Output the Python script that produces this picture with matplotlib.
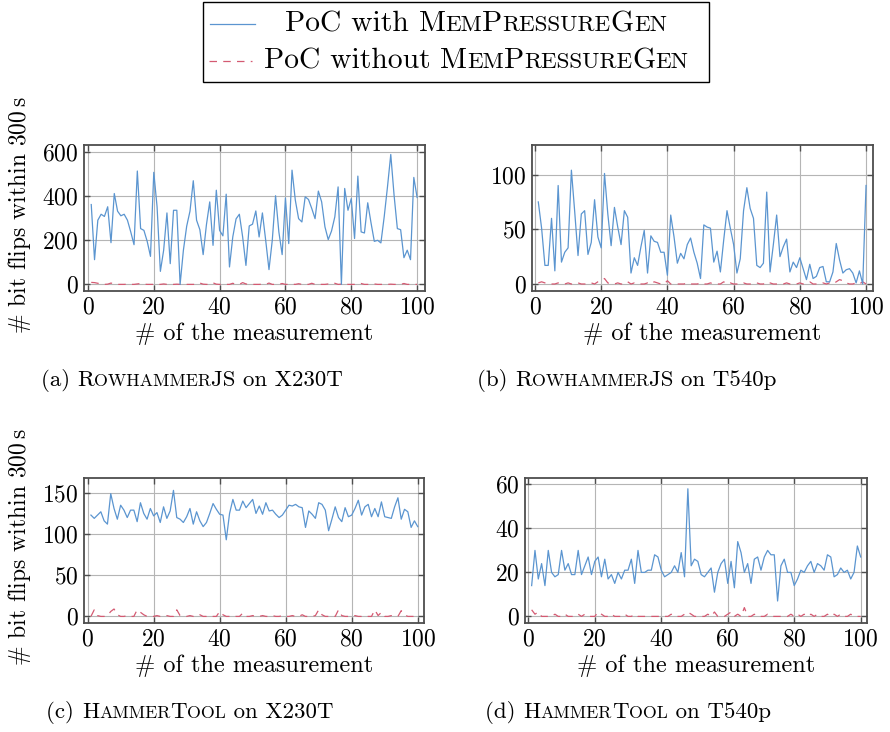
import numpy as np
import matplotlib
matplotlib.use("Agg")
import matplotlib.pyplot as plt
from matplotlib.lines import Line2D
from matplotlib.patches import Rectangle
from matplotlib.offsetbox import TextArea, HPacker, AnnotationBbox, DrawingArea

plt.rcParams['font.family'] = 'serif'
plt.rcParams['font.serif'] = ['cmr10']
plt.rcParams['mathtext.fontset'] = 'cm'
plt.rcParams['axes.formatter.use_mathtext'] = True

# ============================================================
# Data
# ============================================================
measurement = np.arange(1, 101)

with_rjs_x230t = [
    362, 112, 291, 318, 308, 352, 189, 412, 332, 311,
    318, 291, 238, 180, 514, 253, 245, 195, 127, 508,
    352, 59, 155, 324, 94, 336, 336, 0, 155, 264,
    332, 470, 291, 248, 135, 271, 374, 177, 427, 245,
    220, 409, 79, 215, 297, 318, 215, 86, 265, 273,
    333, 215, 324, 200, 67, 200, 402, 238, 135, 392,
    185, 518, 382, 298, 283, 397, 385, 344, 298, 423,
    374, 261, 203, 242, 306, 442, 0, 435, 336, 389,
    208, 491, 238, 233, 370, 279, 195, 200, 188, 306,
    442, 589, 405, 253, 248, 121, 155, 112, 485, 394,
]
without_rjs_x230t = [
    9, 8, 5, 2, 0, 1, 6, 2, 0, 0,
    0, 1, 0, 0, 2, 4, 1, 0, 0, 0,
    0, 0, 2, 0, 0, 0, 1, 0, 3, 0,
    0, 0, 1, 6, 1, 0, 0, 7, 1, 0,
    0, 0, 0, 5, 0, 0, 8, 2, 0, 0,
    0, 0, 1, 0, 6, 0, 0, 0, 4, 0,
    0, 1, 0, 3, 0, 0, 0, 5, 0, 0,
    0, 0, 2, 0, 5, 0, 1, 7, 0, 0,
    0, 0, 4, 0, 0, 0, 2, 0, 0, 0,
    0, 1, 0, 0, 0, 4, 0, 0, 0, 0,
]

with_rjs_t540p = [
    75, 51, 17, 17, 60, 12, 90, 20, 29, 33,
    104, 66, 26, 64, 67, 27, 38, 77, 43, 33,
    101, 64, 35, 70, 52, 36, 67, 61, 10, 24,
    17, 34, 49, 10, 44, 39, 38, 29, 29, 8,
    63, 43, 19, 28, 23, 36, 42, 29, 19, 5,
    54, 52, 51, 20, 30, 11, 40, 67, 51, 36,
    10, 23, 67, 88, 69, 60, 17, 15, 19, 84,
    11, 36, 63, 25, 34, 41, 11, 20, 15, 24,
    14, 4, 18, 5, 7, 15, 16, 2, 2, 11,
    37, 22, 10, 13, 14, 10, 1, 12, 0, 90,
]
without_rjs_t540p = [
    1, 2, 1, 0, 0, 0, 1, 0, 0, 1,
    0, 0, 1, 0, 0, 0, 1, 0, 2, 3,
    5, 1, 0, 0, 1, 0, 0, 2, 0, 1,
    0, 0, 0, 1, 0, 2, 1, 0, 0, 3,
    0, 0, 0, 0, 0, 1, 0, 0, 0, 1,
    0, 0, 1, 0, 0, 0, 2, 0, 1, 0,
    0, 0, 1, 0, 0, 0, 1, 0, 0, 2,
    1, 0, 0, 0, 0, 1, 0, 0, 0, 1,
    0, 1, 2, 0, 0, 0, 1, 0, 1, 0,
    2, 4, 3, 1, 0, 0, 1, 0, 2, 0,
]

with_ht_x230t = [
    123, 119, 123, 127, 116, 112, 149, 131, 118, 135,
    129, 120, 129, 129, 115, 138, 125, 118, 131, 122,
    126, 114, 133, 119, 128, 153, 120, 118, 114, 121,
    131, 112, 127, 116, 109, 114, 125, 137, 130, 124,
    123, 93, 125, 142, 129, 129, 140, 132, 137, 142,
    125, 134, 124, 138, 128, 129, 124, 120, 123, 129,
    135, 134, 136, 133, 132, 108, 128, 124, 119, 138,
    136, 129, 104, 118, 133, 120, 115, 132, 121, 123,
    131, 141, 123, 133, 136, 121, 131, 121, 139, 121,
    120, 119, 133, 144, 118, 130, 127, 108, 116, 109,
]
without_ht_x230t = [
    0, 8, 1, 0, 0, 1, 6, 9, 2, 0,
    0, 1, 0, 0, 8, 5, 2, 0, 0, 0,
    1, 0, 0, 1, 0, 0, 8, 1, 0, 0,
    1, 0, 0, 2, 0, 0, 1, 0, 0, 6,
    2, 0, 0, 1, 0, 0, 4, 0, 0, 1,
    0, 0, 1, 0, 0, 1, 0, 0, 1, 0,
    0, 1, 0, 0, 2, 0, 0, 0, 1, 8,
    2, 0, 0, 1, 0, 8, 1, 0, 0, 0,
    1, 0, 0, 1, 0, 0, 8, 1, 5, 0,
    0, 1, 0, 0, 7, 2, 0, 0, 0, 1,
]

with_ht_t540p = [
    14, 30, 17, 24, 14, 30, 20, 18, 19, 30,
    21, 24, 19, 19, 30, 19, 23, 27, 19, 25,
    27, 18, 26, 17, 19, 15, 20, 17, 21, 21,
    26, 15, 30, 20, 20, 21, 21, 28, 27, 21,
    18, 19, 20, 23, 20, 29, 18, 58, 23, 26,
    25, 19, 18, 20, 22, 11, 20, 24, 26, 15,
    25, 13, 34, 29, 20, 24, 15, 26, 27, 21,
    27, 30, 28, 28, 7, 23, 26, 20, 20, 14,
    17, 21, 20, 23, 25, 20, 24, 23, 21, 28,
    27, 18, 19, 22, 20, 21, 17, 20, 32, 27,
]
without_ht_t540p = [
    3, 1, 2, 0, 0, 0, 0, 1, 0, 0,
    1, 0, 0, 0, 1, 0, 1, 0, 0, 0,
    2, 1, 0, 0, 1, 0, 0, 0, 1, 0,
    0, 1, 0, 0, 0, 0, 0, 0, 0, 0,
    0, 0, 1, 0, 0, 0, 1, 2, 1, 0,
    0, 0, 0, 1, 0, 2, 0, 0, 0, 1,
    2, 0, 1, 0, 4, 0, 0, 1, 0, 0,
    0, 1, 0, 0, 0, 0, 0, 0, 1, 0,
    1, 0, 1, 0, 1, 0, 1, 0, 0, 1,
    0, 1, 0, 1, 0, 0, 1, 0, 0, 0,
]

x_ticks = [0, 20, 40, 60, 80, 100]
y_ticks_rjs_x230t = [0, 200, 400, 600]
y_ticks_rjs_t540p = [0, 50, 100]
y_ticks_ht_x230t = [0, 50, 100, 150]
y_ticks_ht_t540p = [0, 20, 40, 60]

BLUE = '#5b95d0'
RED = '#d45a72'
FRAME = '#4d4d4d'
W, H = 890, 732
SC_RATIO = 0.78


# ============================================================
# Helpers
# ============================================================
def fig_rect(left, top, right, bottom):
    """pixel box (from top-left) -> figure fraction rect"""
    return [left / W, 1 - bottom / H, (right - left) / W, (bottom - top) / H]


def small_caps(text, size):
    """split text into runs, lowercase letters become smaller capitals"""
    runs, cur, cur_low = [], "", None
    for ch in text:
        low = ch.islower()
        if cur and low != cur_low:
            runs.append((cur, cur_low))
            cur = ""
        cur += ch
        cur_low = low
    if cur:
        runs.append((cur, cur_low))
    return [TextArea(r.upper() if low else r,
                     textprops=dict(fontsize=size * SC_RATIO if low else size))
            for r, low in runs]


def mixed_text(parts, size):
    """parts: list of (string, is_smallcaps) or a number = horizontal nudge in px"""
    children = []
    for p in parts:
        if not isinstance(p, tuple):
            children.append(DrawingArea(p, 0))
            continue
        s, sc = p
        if sc:
            children += small_caps(s, size)
        else:
            children.append(TextArea(s, textprops=dict(fontsize=size)))
    return HPacker(children=children, align="baseline", pad=0, sep=0)


def place(fig, box, x, y):
    ab = AnnotationBbox(box, (x / W, 1 - y / H), xycoords='figure fraction',
                        box_alignment=(0.5, 0.5), frameon=False, pad=0)
    fig.add_artist(ab)


def draw_panel(ax, y_with, y_without, xlim, ylim, yticks, ylabel=False):
    ax.plot(measurement, y_without, color=RED, lw=0.9, dashes=(6, 5))
    ax.plot(measurement, y_with, color=BLUE, lw=0.9)
    ax.set_xlim(*xlim)
    ax.set_ylim(*ylim)
    ax.set_xticks(x_ticks)
    ax.set_yticks(yticks)
    ax.grid(True, color='#b5b5b5', lw=0.8)
    ax.set_axisbelow(True)
    ax.tick_params(direction='in', top=True, right=True, length=4, width=1,
                   color=FRAME, labelsize=17, pad=4)
    for sp in ax.spines.values():
        sp.set_color(FRAME)
        sp.set_linewidth(1.3)
    ax.set_xlabel('# of the measurement', fontsize=17.5, labelpad=3)
    if ylabel:
        ax.set_ylabel(r'# bit flips within 300$\,$s', fontsize=17)
        ax.yaxis.set_label_coords(-0.150, 0.52)


# ============================================================
# Figure
# ============================================================
def main():
    fig = plt.figure(figsize=(W / 100, H / 100), dpi=100)

    ax_a = fig.add_axes(fig_rect(84, 145, 425, 291))
    ax_b = fig.add_axes(fig_rect(532, 145, 873, 291))
    ax_c = fig.add_axes(fig_rect(84, 478, 424, 623))
    ax_d = fig.add_axes(fig_rect(525, 478, 867, 623))

    draw_panel(ax_a, with_rjs_x230t, without_rjs_x230t, (-1.2, 102.4), (-30, 632),
               y_ticks_rjs_x230t, ylabel=True)
    draw_panel(ax_b, with_rjs_t540p, without_rjs_t540p, (-0.9, 102.1), (-6.4, 127),
               y_ticks_rjs_t540p)
    draw_panel(ax_c, with_ht_x230t, without_ht_x230t, (-1.1, 101.9), (-8, 168),
               y_ticks_ht_x230t, ylabel=True)
    draw_panel(ax_d, with_ht_t540p, without_ht_t540p, (-1.0, 101.9), (-3, 62.9),
               y_ticks_ht_t540p)

    # --- legend drawn by hand (centered small-caps text) ---
    fig.add_artist(Rectangle((203 / W, 1 - 82 / H), 506 / W, 80 / H,
                             transform=fig.transFigure, fill=False, ec='black', lw=1))
    fig.add_artist(Line2D([210 / W, 255 / W], [1 - 24 / H] * 2,
                          transform=fig.transFigure, color=BLUE, lw=0.9))
    fig.add_artist(Line2D([209 / W, 252 / W], [1 - 61 / H] * 2,
                          transform=fig.transFigure, color=RED, lw=0.9, dashes=(6, 5)))
    place(fig, mixed_text([("PoC with ", False), ("MemPressureGen", True)], 21.3), 476, 24)
    place(fig, mixed_text([("PoC without ", False), ("MemPressureGen", True)], 21.3), 476, 61)

    # --- sub captions ---
    cap = 16.5
    place(fig, mixed_text([("(a) ", False), ("Rowhammer", True), ("JS on X230T", False)], cap), 192, 381)
    place(fig, mixed_text([("(b) ", False), ("Rowhammer", True), ("JS on T540p", False)], cap), 627, 381)
    place(fig, mixed_text([("(c) ", False), ("HammerTool", True), (" on X230T", False)], cap), 190, 713)
    place(fig, mixed_text([("(d) ", False), ("HammerTool", True), (" on T540p", False)], cap), 628, 713)

    fig.savefig("out.png", dpi=100)
    plt.close(fig)


if __name__ == "__main__":
    main()
